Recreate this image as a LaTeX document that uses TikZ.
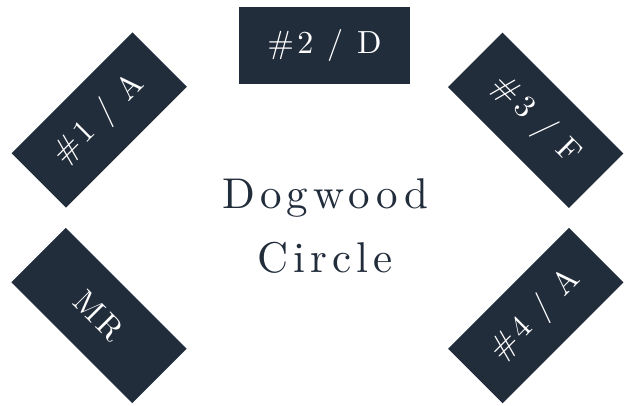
\documentclass[tikz,border=0pt]{standalone}
\usepackage{fontspec}
\setmainfont{Latin Modern Roman}
\newfontfamily\boxfont[LetterSpace=10]{lmroman10-regular.otf}
\newfontfamily\titlefont[LetterSpace=12]{lmroman10-regular.otf}
\definecolor{navy}{HTML}{222D3C}
\tikzset{
  seat/.style={fill=navy, text=white, minimum width=171pt, minimum height=77pt,
    inner sep=0pt, anchor=center, font=\boxfont\fontsize{32}{32}\selectfont},
  title/.style={text=navy, align=center, inner sep=0pt,
    font=\titlefont\fontsize{43}{64}\selectfont}
}
\begin{document}
\begin{tikzpicture}[x=1pt, y=-1pt]
\useasboundingbox (0,0) rectangle (624,405);
\node[seat] (d) at (324.5,45) {\#2 / D};
\node[seat, rotate=45] (a1) at (99.2,120) {\#1 / A};
\node[seat, rotate=-45] (mr) at (99,315.5) {MR};
\node[seat, rotate=-45] (f) at (535.7,120.3) {\#3 / F};
\node[seat, rotate=45] (a4) at (535.8,315.5) {\#4 / A};
\node[title] (t) at (325,226) {Dogwood\\Circle};
\end{tikzpicture}
\end{document}
